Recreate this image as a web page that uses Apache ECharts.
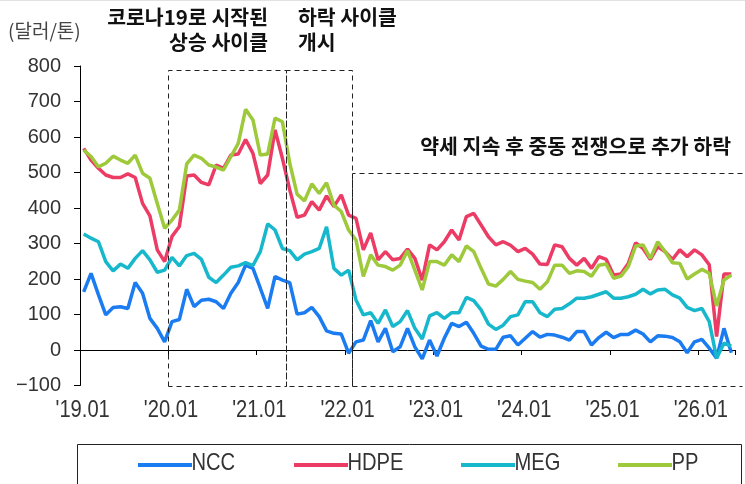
<!DOCTYPE html>
<html>
<head>
<meta charset="utf-8">
<script src="https://cdn.jsdelivr.net/npm/echarts@6/dist/echarts.min.js"></script>
<style>
html,body{margin:0;padding:0;background:#fff;}
#chart{width:745px;height:484px;}
</style>
</head>
<body>
<div id="chart"></div>
<script>
// ---- data ----
const years = ['19','20','21','22','23','24','25','26'];
const months = ['01','02','03','04','05','06','07','08','09','10','11','12'];
const categories = [];
years.forEach(function (y) { months.forEach(function (m) { categories.push("'" + y + '.' + m); }); });
categories.length = 89; // '19.01 ~ '26.05

const seriesNames = ['NCC', 'HDPE', 'MEG', 'PP'];
const ncc = [164,216,156,99,120,122,117,190,160,89,61,23,80,86,171,122,140,143,136,117,160,190,239,230,174,117,207,197,190,101,105,120,94,54,47,45,-9,23,28,83,23,61,-5,9,61,9,-25,28,-17,33,75,66,78,47,11,2,2,36,40,14,33,52,36,44,42,36,28,52,52,14,35,50,35,44,44,56,45,23,40,39,35,23,-8,23,30,5,-23,61,-8];
const hdpe = [568,535,512,493,486,486,496,486,413,378,282,249,320,348,490,493,472,465,521,512,549,552,593,554,469,493,620,540,451,374,380,418,394,434,404,437,380,371,282,330,254,277,254,258,284,258,197,296,282,305,338,310,376,385,352,319,296,305,295,277,286,270,242,241,296,291,258,239,258,230,263,255,211,214,244,302,286,255,291,277,255,282,263,282,268,240,38,214,214];
const meg = [327,315,305,249,223,242,230,258,280,254,219,225,261,237,266,272,255,205,190,211,233,237,246,238,277,355,338,286,280,254,270,277,286,347,230,211,225,141,99,105,75,113,66,80,111,61,31,96,105,89,105,105,148,139,113,73,58,70,94,99,136,136,105,94,115,117,130,146,146,150,157,164,146,146,150,157,171,158,169,171,155,146,120,111,117,80,-23,19,11];
const pp = [563,545,516,526,546,535,526,549,498,484,413,343,366,394,524,549,540,521,515,507,545,582,678,648,549,552,653,643,526,439,420,468,441,471,408,390,338,310,207,268,239,235,225,239,280,225,169,249,249,239,268,249,293,277,230,186,180,199,221,199,194,190,171,192,239,239,216,223,221,208,239,242,202,208,235,293,296,258,305,277,246,244,200,214,227,216,124,197,211];

const yTicks = {min: -100, max: 800, interval: 100};
const labelEvery = 12;
const unitLabel = '(달러/톤)';
const boxStart = ["'20.01", "'21.05", "'22.02"];
const boxEnd = ["'21.05", "'22.02", null];
const boxTop = [790, 790, 500];
const boxBottom = -100;
const noteTexts = [['코로나19로 시작된', '상승 사이클'], ['하락 사이클', '개시'], ['약세 지속 후 중동 전쟁으로 추가 하락']];

// ---- chart ----
const colors = ['#1A7CF0', '#EC3B64', '#18B8CC', '#9DC93A'];
const sans = "'Liberation Sans', Arial, sans-serif";
const kr = "'Noto Sans CJK KR', 'Noto Sans', sans-serif";
const condensed = 0.84;
const chart = echarts.init(document.getElementById('chart'), null, {renderer: 'canvas'});
const dataSets = [ncc, hdpe, meg, pp];
const legendLeft = [133, 289, 456, 613];

chart.setOption({
  animation: false,
  backgroundColor: '#fff',
  grid: {left: 80, top: 66, width: 655, bottom: 98.5, containLabel: false},
  legend: seriesNames.map(function (n, k) {
    return {
      data: [n], left: legendLeft[k], top: 458,
      icon: 'rect', itemWidth: 54, itemHeight: 4,
      formatter: function () { return ''; },
      textStyle: {fontSize: 12, color: '#333'}
    };
  }),
  xAxis: {
    type: 'category', data: categories, boundaryGap: true,
    axisLine: {onZero: true, lineStyle: {color: '#000', width: 1}},
    axisTick: {show: true, interval: labelEvery - 1, length: 5, lineStyle: {color: '#000'}},
    axisLabel: {show: false},
    splitLine: {show: false}
  },
  yAxis: {
    type: 'value', min: yTicks.min, max: yTicks.max, interval: yTicks.interval,
    axisLine: {show: true, lineStyle: {color: '#000', width: 1}},
    axisTick: {show: true, length: 6, lineStyle: {color: '#000'}},
    axisLabel: {margin: 19, fontFamily: sans, fontSize: 20, color: '#333',
      formatter: function (v) { return String(v).replace('-', '\u2212'); }},
    splitLine: {show: false}
  },
  series: seriesNames.map(function (n, k) {
    return {
      name: n, type: 'line', data: dataSets[k], symbol: 'none',
      lineStyle: {width: 3.5, color: colors[k]}, itemStyle: {color: colors[k]}
    };
  })
});

// positions from the axes
const ci = function (name) { return categories.indexOf(name); };
const xc = function (i) { return chart.convertToPixel({xAxisIndex: 0}, i); };
const yv = function (v) { return chart.convertToPixel({yAxisIndex: 0}, v); };
const bw = xc(1) - xc(0);
const gfx = [
  {type: 'line', shape: {x1: 0, y1: 0.5, x2: 745, y2: 0.5}, style: {stroke: '#e2e2e2', lineWidth: 1}},
  {type: 'text', left: 8, top: 21, style: {text: unitLabel, font: '19px ' + kr, fill: '#444'}}
];
// condensed x-axis labels
for (let i = 0; i < categories.length; i += labelEvery) {
  gfx.push({type: 'text', x: xc(i) - 1, y: 410.5, scaleX: condensed, silent: true,
    style: {text: categories[i], font: '24px ' + sans, fill: '#333', align: 'center', verticalAlign: 'middle'}});
}
// dashed boxes
const yb = Math.round(yv(boxBottom)) + 0.5;
for (let b = 0; b < boxStart.length; b++) {
  const x1 = Math.round(xc(ci(boxStart[b])) - bw / 2) + 0.5;
  const yt = Math.round(yv(boxTop[b])) + 0.5;
  let pts;
  if (boxEnd[b]) {
    const x2 = Math.round(xc(ci(boxEnd[b])) - bw / 2) + 0.5;
    pts = [[x1, yb], [x1, yt], [x2, yt], [x2, yb], [x1, yb]];
  } else {
    const x2 = Math.round(xc(categories.length - 1) + bw / 2) + 7.5;
    pts = [[x2, yt], [x1, yt], [x1, yb], [x2, yb]];
  }
  gfx.push({type: 'polyline', silent: true, z: 10, shape: {points: pts},
    style: {stroke: '#222', lineWidth: 1, lineDash: [5, 4], fill: null}});
}
// notes
const noteFont = 'bold 20.5px ' + kr;
const note = function (t, x, y, al) {
  gfx.push({type: 'text', x: x, y: y, z: 20, style: {text: t, font: noteFont, fill: '#111', align: al, verticalAlign: 'middle'}});
};
note(noteTexts[0][0], 268, 17, 'right');
note(noteTexts[0][1], 268, 42, 'right');
note(noteTexts[1][0], 298, 17, 'left');
note(noteTexts[1][1], 298, 42, 'left');
note(noteTexts[2][0], 731, 146, 'right');
// legend labels and frame
seriesNames.forEach(function (n, k) {
  gfx.push({type: 'text', x: legendLeft[k] + 58.5, y: 463.6, scaleX: condensed, silent: true,
    style: {text: n, font: '24px ' + sans, fill: '#333', align: 'left', verticalAlign: 'middle'}});
});
gfx.push({type: 'rect', shape: {x: 77.5, y: 444.5, width: 664, height: 60}, style: {stroke: '#222', lineWidth: 1, fill: null}});
chart.setOption({graphic: gfx});
</script>
</body>
</html>
